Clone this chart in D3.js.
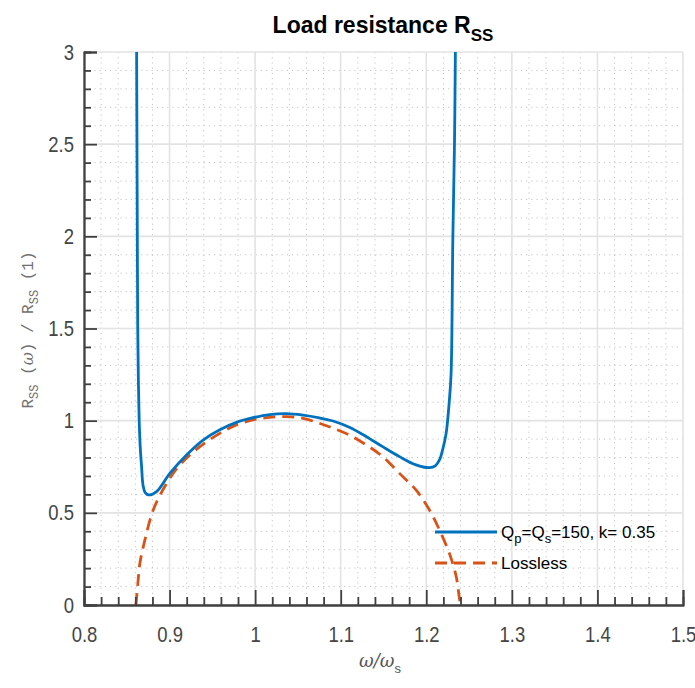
<!DOCTYPE html>
<html>
<head>
<meta charset="utf-8">
<script src="https://cdn.jsdelivr.net/npm/d3@7"></script>
<style>
  body { margin: 0; background: #fff; }
</style>
</head>
<body>
<svg id="chart" width="695" height="688"></svg>
<script>
// values
const xTicks = [0.8, 0.9, 1, 1.1, 1.2, 1.3, 1.4, 1.5];
const yTicks = [0, 0.5, 1, 1.5, 2, 2.5, 3];

// Qp = Qs = 150, k = 0.35
const lossyW = [0.8615, 0.8619, 0.8623, 0.8628, 0.8636, 0.8645, 0.8658, 0.8673, 0.869, 0.8715,
  0.8758, 0.8848, 0.9003, 0.9198, 0.9392, 0.9587, 0.9782, 0.9976, 1.017, 1.0365,
  1.056, 1.075, 1.091, 1.11, 1.13, 1.149, 1.1687, 1.188, 1.2037, 1.2105,
  1.2154, 1.2195, 1.2232, 1.227, 1.229, 1.231, 1.233, 1.234];
const lossyR = [3.0, 2.5, 2.0, 1.5, 1.2, 1.0, 0.85, 0.75, 0.65, 0.61,
  0.597, 0.615, 0.714, 0.814, 0.895, 0.951, 0.991, 1.016, 1.033, 1.038,
  1.03, 1.015, 0.998, 0.964, 0.913, 0.859, 0.805, 0.76, 0.745, 0.755,
  0.787, 0.85, 0.931, 1.112, 1.257, 1.98, 2.52, 3.0];

// lossless
const losslessW = [0.8607, 0.863, 0.8653, 0.8712, 0.8809, 0.8965, 0.912, 0.9354, 0.9587, 0.978,
  0.9976, 1.017, 1.0365, 1.056, 1.075, 1.091, 1.11, 1.13, 1.149, 1.1687,
  1.188, 1.2037, 1.2154, 1.227, 1.235, 1.2387, 1.24];
const losslessR = [0, 0.12, 0.226, 0.353, 0.515, 0.66, 0.76, 0.859, 0.931, 0.977,
  1.004, 1.018, 1.022, 1.013, 0.986, 0.959, 0.922, 0.868, 0.805, 0.714,
  0.624, 0.515, 0.407, 0.28, 0.154, 0.036, 0];

const blue = "#0072BD";
const orange = "#D95319";
const sans = "'Liberation Sans', Arial, sans-serif";
const squeezeX = 0.84; // no narrow font installed, so labels are scaled

const svg = d3.select("#chart");
const pLeft = 84, pRight = 683, pTop = 52, pBottom = 605;

const x = d3.scaleLinear().domain([0.8, 1.5]).range([pLeft, pRight]);
const y = d3.scaleLinear().domain([0, 3]).range([pBottom, pTop]);

const xMinor = d3.range(0, 36).map(i => +(0.8 + i * 0.02).toFixed(2))
  .filter(v => Math.abs(v * 10 - Math.round(v * 10)) > 1e-6);
const yMinor = d3.range(0, 31).map(i => +(i * 0.1).toFixed(1))
  .filter(v => Math.abs(v * 2 - Math.round(v * 2)) > 1e-6);

svg.append("rect").attr("width", 695).attr("height", 688).attr("fill", "#fff");

// minor grid (dotted)
const minor = svg.append("g").attr("stroke", "#c4c4c4").attr("stroke-width", 1)
  .attr("stroke-dasharray", "1.2,4");
minor.selectAll(".vx").data(xMinor).join("line")
  .attr("x1", d => x(d)).attr("x2", d => x(d)).attr("y1", pTop).attr("y2", pBottom);
minor.selectAll(".hy").data(yMinor).join("line")
  .attr("x1", pLeft).attr("x2", pRight).attr("y1", d => y(d)).attr("y2", d => y(d));

// major grid
const major = svg.append("g").attr("stroke", "#e3e3e3").attr("stroke-width", 1.6);
major.selectAll(".vx").data(xTicks).join("line")
  .attr("x1", d => x(d)).attr("x2", d => x(d)).attr("y1", pTop).attr("y2", pBottom);
major.selectAll(".hy").data(yTicks).join("line")
  .attr("x1", pLeft).attr("x2", pRight).attr("y1", d => y(d)).attr("y2", d => y(d));

// curves
svg.append("clipPath").attr("id", "clip").append("rect")
  .attr("x", pLeft).attr("y", pTop).attr("width", pRight - pLeft).attr("height", pBottom - pTop);

const line = d3.line().x(d => x(d[0])).y(d => y(d[1])).curve(d3.curveCatmullRom.alpha(0.5));

svg.append("path")
  .datum(losslessW.map((w, i) => [w, losslessR[i]]))
  .attr("clip-path", "url(#clip)")
  .attr("fill", "none").attr("stroke", orange).attr("stroke-width", 2.8)
  .attr("stroke-dasharray", "12,7")
  .attr("d", line);

svg.append("path")
  .datum(lossyW.map((w, i) => [w, lossyR[i]]))
  .attr("clip-path", "url(#clip)")
  .attr("fill", "none").attr("stroke", blue).attr("stroke-width", 2.8)
  .attr("d", line);

// axes, ticks pointing inward
function styleAxis(g) {
  g.select(".domain").attr("stroke", "#404040").attr("stroke-width", 1.8);
  g.selectAll(".tick line").attr("stroke", "#404040").attr("stroke-width", 1.8);
  g.selectAll(".tick text").attr("fill", "#454545")
    .style("font-family", sans).style("font-size", "22px");
}

svg.append("g").attr("transform", `translate(0,${pBottom})`)
  .call(d3.axisBottom(x).tickValues(xMinor).tickSize(-8).tickFormat(""))
  .call(styleAxis);
svg.append("g").attr("transform", `translate(0,${pBottom})`)
  .call(d3.axisBottom(x).tickValues(xTicks).tickSize(-15).tickPadding(21)
    .tickFormat(d3.format("")))
  .call(styleAxis)
  .call(g => g.selectAll(".tick text").attr("transform", `scale(${squeezeX},1)`));

svg.append("g").attr("transform", `translate(${pLeft},0)`)
  .call(d3.axisLeft(y).tickValues(yMinor).tickSize(-7).tickFormat(""))
  .call(styleAxis);
svg.append("g").attr("transform", `translate(${pLeft},0)`)
  .call(d3.axisLeft(y).tickValues(yTicks).tickSize(-13).tickPadding(10 / squeezeX)
    .tickFormat(d3.format("")))
  .call(styleAxis)
  .call(g => g.selectAll(".tick text").attr("transform", `scale(${squeezeX},1)`));

// title
const title = svg.append("text").attr("x", 383).attr("y", 33)
  .attr("text-anchor", "middle").attr("fill", "#000")
  .style("font-family", sans).style("font-size", "23px").style("font-weight", "bold");
title.append("tspan").text("Load resistance R");
title.append("tspan").attr("dy", 8).style("font-size", "17px").text("SS");

// x label
const xl = svg.append("text").attr("x", 380).attr("y", 667)
  .attr("text-anchor", "middle").attr("fill", "#555");
xl.append("tspan").style("font-family", "'DejaVu Serif', serif").style("font-style", "italic")
  .style("font-size", "18px").text("ω/ω");
xl.append("tspan").attr("dy", 6).style("font-family", sans).style("font-size", "13px").text("s");

// y label
const yl = svg.append("text").attr("transform", "translate(33,330) rotate(-90)")
  .attr("text-anchor", "middle").attr("fill", "#707070")
  .style("font-family", "'Liberation Mono', monospace").style("font-size", "16px");
yl.append("tspan").text("R");
yl.append("tspan").attr("dy", 5).style("font-size", "12px").text("SS");
yl.append("tspan").attr("dy", -5).text(" (");
yl.append("tspan").style("font-family", "'DejaVu Serif', serif").style("font-style", "italic").text("ω");
yl.append("tspan").text(") / R");
yl.append("tspan").attr("dy", 5).style("font-size", "12px").text("SS");
yl.append("tspan").attr("dy", -5).text(" (1)");

// legend
const legend = svg.append("g").style("font-family", sans).style("font-size", "17px");
const items = [
  { color: blue, dash: null, y: 532 },
  { color: orange, dash: "12,7", y: 563 }
];
items.forEach(it => {
  legend.append("line").attr("x1", 435).attr("x2", 497).attr("y1", it.y).attr("y2", it.y)
    .attr("stroke", it.color).attr("stroke-width", 2.8)
    .attr("stroke-dasharray", it.dash);
});
const t1 = legend.append("text").attr("x", 501).attr("y", 538).attr("fill", "#000");
t1.append("tspan").text("Q");
t1.append("tspan").attr("dy", 5).style("font-size", "13px").text("p");
t1.append("tspan").attr("dy", -5).text("=Q");
t1.append("tspan").attr("dy", 5).style("font-size", "13px").text("s");
t1.append("tspan").attr("dy", -5).text("=150, k= 0.35");
legend.append("text").attr("x", 501).attr("y", 569).attr("fill", "#000").text("Lossless");
</script>
</body>
</html>
